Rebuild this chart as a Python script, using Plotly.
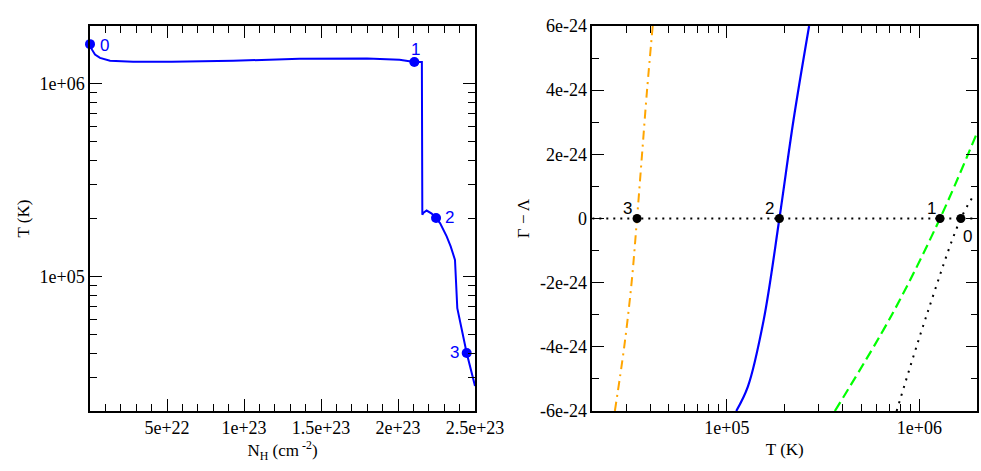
import numpy as np
import plotly.graph_objects as go

# ---------------- Left panel: T versus column density ----------------
nh_curve = [0, 1.3e21, 3.25e21, 6.5e21, 1.3e22, 2.8e22, 5.3e22, 9.3e22, 1.36e23,
            1.80e23, 2.01e23, 2.106e23, 2.155e23, 2.158e23, 2.164e23, 2.186e23,
            2.219e23, 2.247e23, 2.273e23, 2.316e23, 2.342e23, 2.370e23, 2.385e23,
            2.414e23, 2.446e23, 2.5e23]
t_curve = [1.61e6, 1.507e6, 1.42e6, 1.365e6, 1.32e6, 1.306e6, 1.306e6, 1.32e6, 1.35e6,
           1.354e6, 1.337e6, 1.301e6, 1.30e6, 2.09e5, 2.136e5, 2.2e5,
           2.12e5, 2.012e5, 1.895e5, 1.614e5, 1.432e5, 1.22e5, 6.85e4,
           5.3e4, 4.0e4, 2.7e4]

left_pt_labels = ["0", "1", "2", "3"]
left_pt_nh = [0, 2.106e23, 2.247e23, 2.446e23]
left_pt_t = [1.61e6, 1.30e6, 2.01e5, 4.0e4]

left_xtick_vals = [5e22, 1e23, 1.5e23, 2e23, 2.5e23]
left_xtick_text = ["5e+22", "1e+23", "1.5e+23", "2e+23", "2.5e+23"]
log_tick_vals = [1e5, 1e6]
log_tick_text = ["1e+05", "1e+06"]

# ---------------- Right panel: Gamma - Lambda versus T ----------------
orange_t = [2.62e4, 2.93e4, 3.2e4, 3.415e4, 3.626e4, 3.85e4, 4.12e4]
orange_gl = [-6e-24, -4e-24, -2e-24, 0, 2e-24, 4e-24, 6e-24]

blue_t = [1.119e5, 1.286e5, 1.554e5, 1.875e5, 2.22e5, 2.675e5]
blue_gl = [-6e-24, -5.24e-24, -3.16e-24, 0, 3.07e-24, 6e-24]

green_t = [3.64e5, 7.2e5, 1.28e6, 1.99e6]
green_gl = [-6e-24, -3e-24, 0, 2.66e-24]

black_t = [7.62e5, 1.093e6, 1.643e6, 1.95e6]
black_gl = [-6e-24, -3e-24, 0, 0.785e-24]

zero_t = [2e4, 2e6]
zero_gl = [0, 0]

right_pt_labels = ["0", "1", "2", "3"]
right_pt_t = [1.643e6, 1.28e6, 1.875e5, 3.415e4]
right_pt_gl = [0, 0, 0, 0]

right_ytick_vals = [-6e-24, -4e-24, -2e-24, 0, 2e-24, 4e-24, 6e-24]
right_ytick_text = ["-6e-24", "-4e-24", "-2e-24", "0", "2e-24", "4e-24", "6e-24"]

log_minor_vals = [m * 10 ** e for e in (4, 5) for m in range(2, 10)] + [2e6]

SERIF = "Liberation Serif"
SANS = "Liberation Sans"
tickfont = dict(family=SERIF, size=18, color="black")
titlefont = dict(family=SERIF, size=17, color="black")

fig = go.Figure()

fig.add_trace(go.Scatter(x=nh_curve, y=t_curve, mode="lines",
                         line=dict(color="#0000ff", width=2),
                         xaxis="x", yaxis="y", hoverinfo="skip"))
fig.add_trace(go.Scatter(x=left_pt_nh, y=left_pt_t, mode="markers",
                         marker=dict(color="#0000ff", size=10),
                         cliponaxis=False, xaxis="x", yaxis="y"))

fig.add_trace(go.Scatter(x=zero_t, y=zero_gl, mode="lines",
                         line=dict(color="black", width=2, dash="2px,5px"),
                         xaxis="x2", yaxis="y2"))
fig.add_trace(go.Scatter(x=orange_t, y=orange_gl, mode="lines",
                         line=dict(color="#ffa500", width=2, dash="9px,5px,2px,5px", shape="spline"),
                         xaxis="x2", yaxis="y2"))
fig.add_trace(go.Scatter(x=blue_t, y=blue_gl, mode="lines",
                         line=dict(color="#0000ff", width=2.2, shape="spline"),
                         xaxis="x2", yaxis="y2"))
fig.add_trace(go.Scatter(x=green_t, y=green_gl, mode="lines",
                         line=dict(color="#00ff00", width=2.2, dash="10px,5px", shape="spline"),
                         xaxis="x2", yaxis="y2"))
fig.add_trace(go.Scatter(x=black_t, y=black_gl, mode="lines",
                         line=dict(color="black", width=2, dash="2px,6px", shape="spline"),
                         xaxis="x2", yaxis="y2"))
fig.add_trace(go.Scatter(x=right_pt_t, y=right_pt_gl, mode="markers",
                         marker=dict(color="black", size=9),
                         cliponaxis=False, xaxis="x2", yaxis="y2"))

# point labels
left_shifts = [(14, -1), (1, 13), (13, 1), (-12, 1)]
for lab, xv, yv, (dx, dy) in zip(left_pt_labels, left_pt_nh, left_pt_t, left_shifts):
    fig.add_annotation(x=xv, y=np.log10(yv), xref="x", yref="y", text=lab,
                       showarrow=False, xshift=dx, yshift=dy,
                       font=dict(family=SANS, size=17, color="#0000ff"))
right_shifts = [(7, -18), (-8, 10), (-10, 10), (-10, 10)]
for lab, xv, yv, (dx, dy) in zip(right_pt_labels, right_pt_t, right_pt_gl, right_shifts):
    fig.add_annotation(x=np.log10(xv), y=yv, xref="x2", yref="y2", text=lab,
                       showarrow=False, xshift=dx, yshift=dy,
                       font=dict(family=SANS, size=17, color="black"))

common = dict(showline=True, linecolor="black", linewidth=1.5, mirror="allticks",
              ticks="inside", ticklen=12, tickwidth=1.3, tickcolor="black",
              showgrid=False, zeroline=False, tickfont=tickfont, automargin=False)

xd1 = [90 / 981, 475 / 981]
xd2 = [592.3 / 981, 977.3 / 981]
yd = [60 / 471, 445 / 471]

fig.update_layout(
    template="none",
    width=981, height=471,
    margin=dict(l=0, r=0, t=0, b=0, pad=0),
    paper_bgcolor="white", plot_bgcolor="white",
    showlegend=False,
    font=dict(family=SERIF, size=17, color="black"),
    xaxis=dict(domain=xd1, anchor="y", range=[0, 2.5e23],
               tickmode="array", tickvals=left_xtick_vals, ticktext=left_xtick_text,
               minor=dict(tickmode="linear", tick0=0, dtick=1e22, ticks="inside",
                          ticklen=7, tickwidth=1.2, tickcolor="black", showgrid=False),
               title=dict(text="N<sub>H</sub> (cm<sup> -2</sup>)", font=titlefont, standoff=6),
               **common),
    yaxis=dict(domain=yd, anchor="x", type="log",
               range=[np.log10(2e4), np.log10(2e6)],
               tickmode="array", tickvals=log_tick_vals, ticktext=log_tick_text,
               minor=dict(tickmode="array", tickvals=log_minor_vals, ticks="inside",
                          ticklen=7, tickwidth=1.2, tickcolor="black", showgrid=False),
               title=dict(text="T (K)", font=titlefont, standoff=6),
               **common),
    xaxis2=dict(domain=xd2, anchor="y2", type="log",
                range=[np.log10(2e4), np.log10(2e6)],
                tickmode="array", tickvals=log_tick_vals, ticktext=log_tick_text,
                minor=dict(tickmode="array", tickvals=log_minor_vals, ticks="inside",
                           ticklen=7, tickwidth=1.2, tickcolor="black", showgrid=False),
                title=dict(text="T (K)", font=titlefont, standoff=6),
                **common),
    yaxis2=dict(domain=yd, anchor="x2", range=[-6e-24, 6e-24],
                tickmode="array", tickvals=right_ytick_vals, ticktext=right_ytick_text,
                minor=dict(tickmode="linear", tick0=0, dtick=1e-24, ticks="inside",
                           ticklen=7, tickwidth=1.2, tickcolor="black", showgrid=False),
                title=dict(text="Γ − Λ", font=titlefont, standoff=6),
                **common),
)

fig.write_html("out.html",
               config={"displayModeBar": False},
               post_script="document.body.style.margin='0';document.body.style.overflow='hidden';")
